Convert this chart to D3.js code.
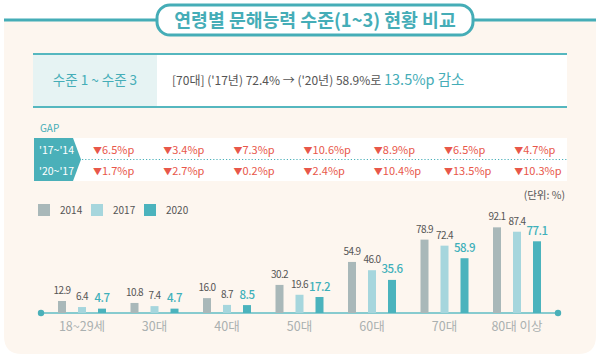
<!DOCTYPE html>
<html><head><meta charset="utf-8">
<script src="https://cdn.jsdelivr.net/npm/d3@7"></script>
<style>
html,body{margin:0;padding:0;background:#fff;}
svg{display:block;font-family:"Noto Sans CJK KR","Noto Sans",sans-serif;}
</style></head>
<body><svg id="c" width="600" height="355"></svg>
<script>
const title = "연령별 문해능력 수준(1~3) 현황 비교";
const categories = ["18~29세","30대","40대","50대","60대","70대","80대 이상"];
const years = ["2014","2017","2020"];
const values2014 = [12.9,10.8,16.0,30.2,54.9,78.9,92.1];
const values2017 = [6.4,7.4,8.7,19.6,46.0,72.4,87.4];
const values2020 = [4.7,4.7,8.5,17.2,35.6,58.9,77.1];
const gapLabels = ["'17~'14","'20~'17"];
const gap1714 = ["6.5","3.4","7.3","10.6","8.9","6.5","4.7"];
const gap2017 = ["1.7","2.7","0.2","2.4","10.4","13.5","10.3"];
const yTicks = [0,100];

const series = [values2014, values2017, values2020];
const colors = ["#a9b8b9","#a6d6dd","#4bb3bd"];
const teal = "#45adb7";
const svg = d3.select("#c");

// panel
svg.append("path").attr("fill","#fdf6ef")
  .attr("d","M4,20 H596 V336 Q596,354 578,354 H22 Q4,354 4,336 Z");
// title line and box
svg.append("line").attr("x1",4).attr("x2",596).attr("y1",20).attr("y2",20)
  .attr("stroke",teal).attr("stroke-width",3);
svg.append("rect").attr("x",157).attr("y",5).attr("width",316).attr("height",30)
  .attr("rx",13).attr("fill","#fff").attr("stroke",teal).attr("stroke-width",3);
svg.append("text").attr("x",315).attr("y",26.5).attr("text-anchor","middle")
  .attr("fill",teal).attr("font-size",18.3).attr("font-weight",700).text(title);

// info box
svg.append("rect").attr("x",33).attr("y",54).attr("width",534).attr("height",53).attr("fill","#fff");
svg.append("rect").attr("x",33).attr("y",54).attr("width",124).attr("height",53).attr("fill","#e6f3f3");
svg.append("line").attr("x1",33).attr("x2",567).attr("y1",54).attr("y2",54).attr("stroke","#55b7bf").attr("stroke-width",2);
svg.append("line").attr("x1",33).attr("x2",567).attr("y1",107).attr("y2",107).attr("stroke","#55b7bf").attr("stroke-width",2);
svg.append("text").attr("x",95).attr("y",85).attr("text-anchor","middle").attr("fill",teal)
  .attr("font-size",13.5).text("수준 1 ~ 수준 3");
const info = svg.append("text").attr("x",172).attr("y",85).attr("font-size",12).attr("fill","#555");
info.append("tspan").text("[70대] ('17년) 72.4% → ('20년) 58.9%로 ");
info.append("tspan").attr("fill",teal).attr("font-size",14.5).text("13.5%p 감소");

// GAP section
svg.append("text").attr("x",40).attr("y",132).attr("fill",teal).attr("font-size",10).text("GAP");
svg.append("rect").attr("x",34).attr("y",138).attr("width",533).attr("height",43).attr("fill","#fff");
svg.append("path").attr("fill","#4ab0b9").attr("d","M34,138 H73 L81,159.5 L73,181 H34 Z");
svg.append("line").attr("x1",34).attr("x2",567).attr("y1",159.5).attr("y2",159.5)
  .attr("stroke","#4ab0b9").attr("stroke-width",1.2).attr("stroke-dasharray","1.2,2");
[[gap1714,153.5],[gap2017,175]].forEach(([arr,y],r)=>{
  svg.append("text").attr("x",39).attr("y",y).attr("fill","#fff").attr("font-size",10.5).text(gapLabels[r]);
  arr.forEach((v,i)=>{
    const t = svg.append("text").attr("x",93+70.2*i).attr("y",y).attr("fill","#e8574a").attr("font-size",11);
    t.append("tspan").attr("font-size",9).text("▼");
    t.append("tspan").text(v+"%p");
  });
});

// chart
const y = d3.scaleLinear().domain(yTicks).range([313,220]);
const x = d3.scaleBand().domain(categories).range([45.75,553.25]).padding(0);
const xs = d3.scalePoint().domain(years).range([-20,20]);
const bw = 8;

// legend
years.forEach((yr,i)=>{
  svg.append("rect").attr("x",38+53*i).attr("y",204).attr("width",12).attr("height",12).attr("fill",colors[i]);
  svg.append("text").attr("x",60+53*i).attr("y",214).attr("font-size",10).attr("fill","#555").text(yr);
});
svg.append("text").attr("x",565).attr("y",199).attr("text-anchor","end").attr("font-size",10.5).attr("fill","#555").text("(단위: %)");

// baseline
svg.append("line").attr("x1",41).attr("x2",558).attr("y1",y(0)).attr("y2",y(0)).attr("stroke","#5fbcc4").attr("stroke-width",1.5);
svg.append("circle").attr("cx",41).attr("cy",y(0)).attr("r",3.2).attr("fill","#4ab0b9");
svg.append("circle").attr("cx",558).attr("cy",y(0)).attr("r",3.2).attr("fill","#4ab0b9");

series.forEach((vals,si)=>{
  const g = svg.append("g");
  g.selectAll("rect").data(vals).join("rect")
    .attr("x",(d,i)=>x(categories[i])+x.bandwidth()/2+xs(years[si])-bw/2)
    .attr("y",d=>y(d)).attr("width",bw).attr("height",d=>y(0)-y(d)).attr("fill",colors[si]);
  g.selectAll("text").data(vals).join("text")
    .attr("x",(d,i)=>x(categories[i])+x.bandwidth()/2+xs(years[si]))
    .attr("y",d=>y(d)-(si===2?6.5:7))
    .attr("text-anchor","middle")
    .attr("font-size",si===2?11.5:10)
    .attr("letter-spacing",si===2?-0.5:-0.6)
    .attr("font-weight",si===2?500:400)
    .attr("fill",si===2?"#3fb0ba":"#555")
    .text(d=>d.toFixed(1));
});

// category labels
svg.append("g").selectAll("text").data(categories).join("text")
  .attr("x",d=>x(d)+x.bandwidth()/2).attr("y",331).attr("text-anchor","middle")
  .attr("font-size",12.5).attr("fill","#aab0b0").text(d=>d);
</script></body></html>
